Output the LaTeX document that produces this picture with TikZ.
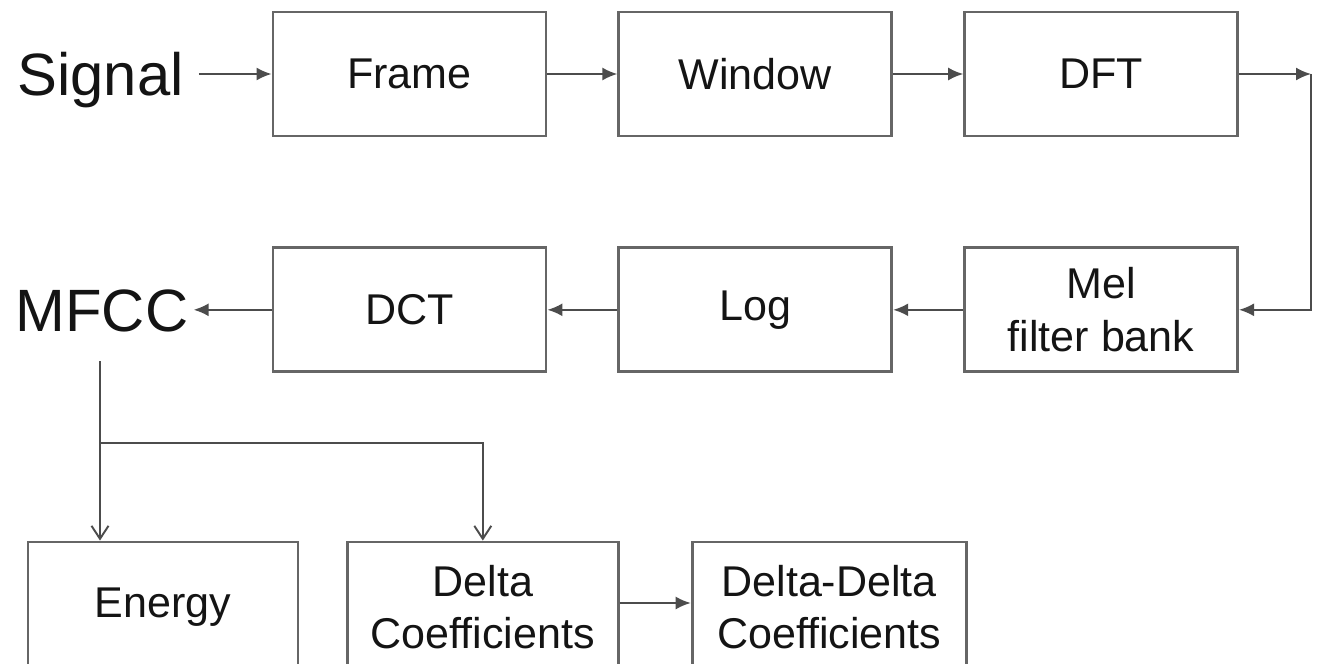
\documentclass[tikz,border=0pt]{standalone}
\usepackage{fontspec}
\setmainfont{Liberation Sans}
\usetikzlibrary{positioning}
\usetikzlibrary{arrows.meta}

\begin{document}
\begin{tikzpicture}[
    >={Latex[length=0.3cm,width=0.26cm]},
    node distance=2.18cm and 1.40cm,
    every node/.style={font=\fontsize{24.5}{30}\selectfont, text=black!92},
    block/.style={draw=black!60, line width=1.6pt, minimum width=5.46cm, minimum height=2.48cm, align=center, inner sep=0pt},
    lowblock/.style={block, minimum width=5.42cm, minimum height=2.6cm},
    bigtext/.style={font=\fontsize{34}{40}\selectfont, inner ysep=0pt},
    flow/.style={draw=black!70, line width=1.1pt},
    tap/.style={flow, -{Straight Barb[length=0.26cm,width=0.34cm]}}
]
\useasboundingbox (0,0) rectangle (26.4,-13.28);
\clip (0,0) rectangle (26.4,-13.28);

% top row
\node[block] (frame) at (8.19,-1.48) {Frame};
\node[block, right=of frame] (window) {Window};
\node[block, right=of window] (dft) {DFT};
\node[bigtext, anchor=base, inner xsep=0.3cm] (signal) at (2.01,-1.91) {Signal};

% middle row
\node[block, below=of dft] (mel) {Mel\\filter bank};
\node[block, left=of mel] (log) {Log};
\node[block, left=of log] (dct) {DCT};
\node[bigtext, anchor=base, inner xsep=0.1cm, inner ysep=0.58cm] (mfcc) at (2.04,-6.63) {MFCC};

% bottom row
\node[lowblock, minimum width=5.4cm] (energy) at (3.26,-12.14) {Energy};
\node[lowblock, right=0.93cm of energy] (delta) {Delta\\Coefficients};
\node[lowblock, minimum width=5.48cm, right=1.42cm of delta] (ddelta) {Delta-Delta\\Coefficients};

\coordinate[right=1.44cm of dft.east] (turn);
\coordinate (split) at ([xshift=-0.04cm]mfcc.south |- 0,-8.86);

\draw[flow, ->] (signal.east |- frame.west) -- (frame.west);
\draw[flow, ->] (frame) -- (window);
\draw[flow, ->] (window) -- (dft);
\draw[flow, ->] (dft.east) -- (turn);
\draw[flow, ->] (turn) |- (mel.east);
\draw[flow, ->] (mel) -- (log);
\draw[flow, ->] (log) -- (dct);
\draw[flow, ->] (dct.west) -- (mfcc.east |- dct.west);
\draw[tap] ([xshift=-0.04cm]mfcc.south) -- (split |- energy.north);
\draw[tap] (split) -| (delta.north);
\draw[flow, ->] (delta.east |- 0,-12.06) -- (ddelta.west |- 0,-12.06);
\end{tikzpicture}
\end{document}
